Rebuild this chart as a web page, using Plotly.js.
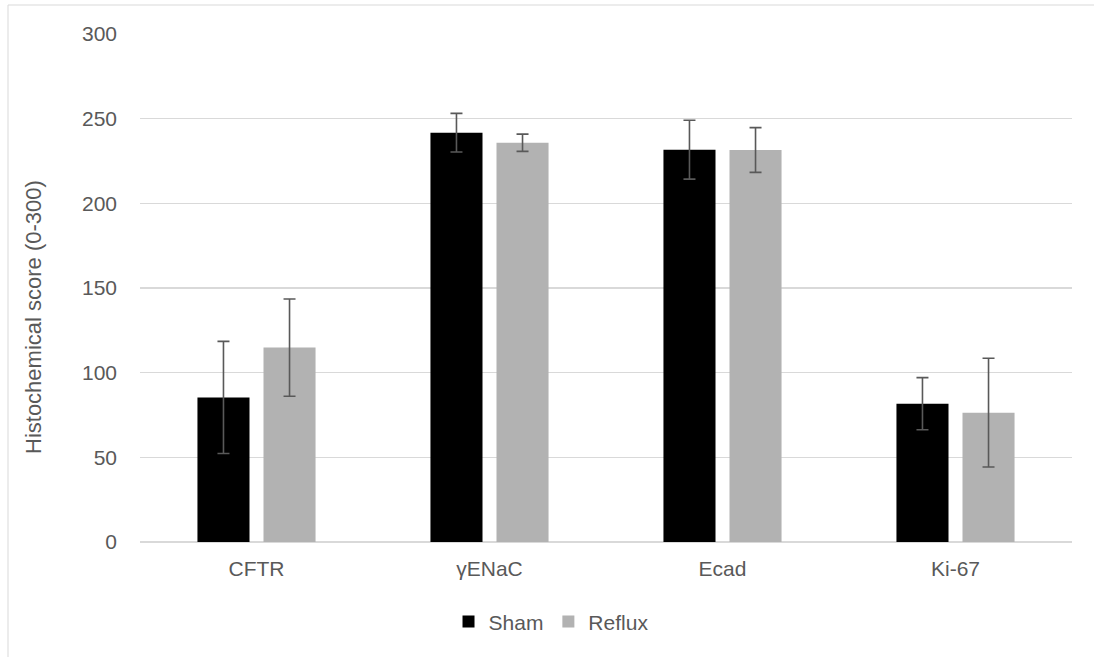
<!DOCTYPE html>
<html>
<head>
<meta charset="utf-8">
<script src="https://cdn.plot.ly/plotly-3.0.1.min.js"></script>
<style>
  html, body { margin: 0; padding: 0; background: #ffffff; }
  #chart { width: 1094px; height: 657px; }
</style>
</head>
<body>
<div id="chart"></div>
<script>
// Histochemical scores per marker, mean ± error
const categories = ['CFTR', 'γENaC', 'Ecad', 'Ki-67'];
const shamValues = [85.4, 241.7, 231.7, 81.7];
const shamErrors = [33.1, 11.4, 17.4, 15.4];
const refluxValues = [114.8, 235.8, 231.5, 76.4];
const refluxErrors = [28.7, 5.1, 13.2, 32.1];
const yTicks = [0, 50, 100, 150, 200, 250, 300];

const textColor = '#595959';
const gridColor = '#d9d9d9';

function errorStyle(values) {
  return {
    type: 'data',
    array: values,
    visible: true,
    color: '#595959',
    thickness: 1.6,
    width: 6
  };
}

const traces = [
  {
    type: 'bar',
    name: 'Sham',
    x: categories,
    y: shamValues,
    error_y: errorStyle(shamErrors),
    marker: { color: '#000000' }
  },
  {
    type: 'bar',
    name: 'Reflux',
    x: categories,
    y: refluxValues,
    error_y: errorStyle(refluxErrors),
    marker: { color: '#b2b2b2' }
  }
];

const layout = {
  width: 1094,
  height: 657,
  margin: { l: 140, r: 22, t: 34, b: 115 },
  paper_bgcolor: '#ffffff',
  plot_bgcolor: '#ffffff',
  font: { family: 'Liberation Sans, Arial, sans-serif', size: 21, color: textColor },
  barmode: 'group',
  bargap: 0.433,
  bargroupgap: 0.212,
  showlegend: true,
  legend: {
    orientation: 'h',
    x: 0.441,
    xanchor: 'center',
    y: -0.157,
    yanchor: 'middle',
    font: { size: 21, color: textColor },
    itemwidth: 30,
    tracegroupgap: 0
  },
  xaxis: {
    type: 'category',
    showgrid: false,
    showline: false,
    zeroline: false,
    ticks: '',
    ticklabelstandoff: 12,
    tickfont: { size: 21, color: textColor },
    fixedrange: true
  },
  yaxis: {
    range: [0, 300],
    tickvals: yTicks,
    ticktext: yTicks.map(String),
    showgrid: true,
    gridcolor: gridColor,
    gridwidth: 1.5,
    zeroline: true,
    zerolinecolor: gridColor,
    zerolinewidth: 1.5,
    showline: false,
    ticks: '',
    ticklabelstandoff: 22,
    tickfont: { size: 21, color: textColor },
    fixedrange: true
  },
  annotations: [
    {
      // vertical axis title, placed slightly below the plot's middle
      text: 'Histochemical score (0-300)',
      xref: 'paper', yref: 'paper',
      x: (33 - 140) / 932, y: (542 - 317) / 508,
      xanchor: 'center', yanchor: 'middle',
      textangle: -90,
      showarrow: false,
      font: { size: 22, color: textColor }
    }
  ],
  shapes: [
    {
      // outer frame around the chart
      type: 'rect',
      xref: 'paper', yref: 'paper',
      x0: (8 - 140) / 932, x1: 2,
      y0: -1, y1: (542 - 5) / 508,
      line: { color: '#d9d9d9', width: 1 },
      fillcolor: 'rgba(0,0,0,0)',
      layer: 'below'
    }
  ]
};

Plotly.newPlot('chart', traces, layout, { displayModeBar: false, staticPlot: true });
</script>
</body>
</html>
